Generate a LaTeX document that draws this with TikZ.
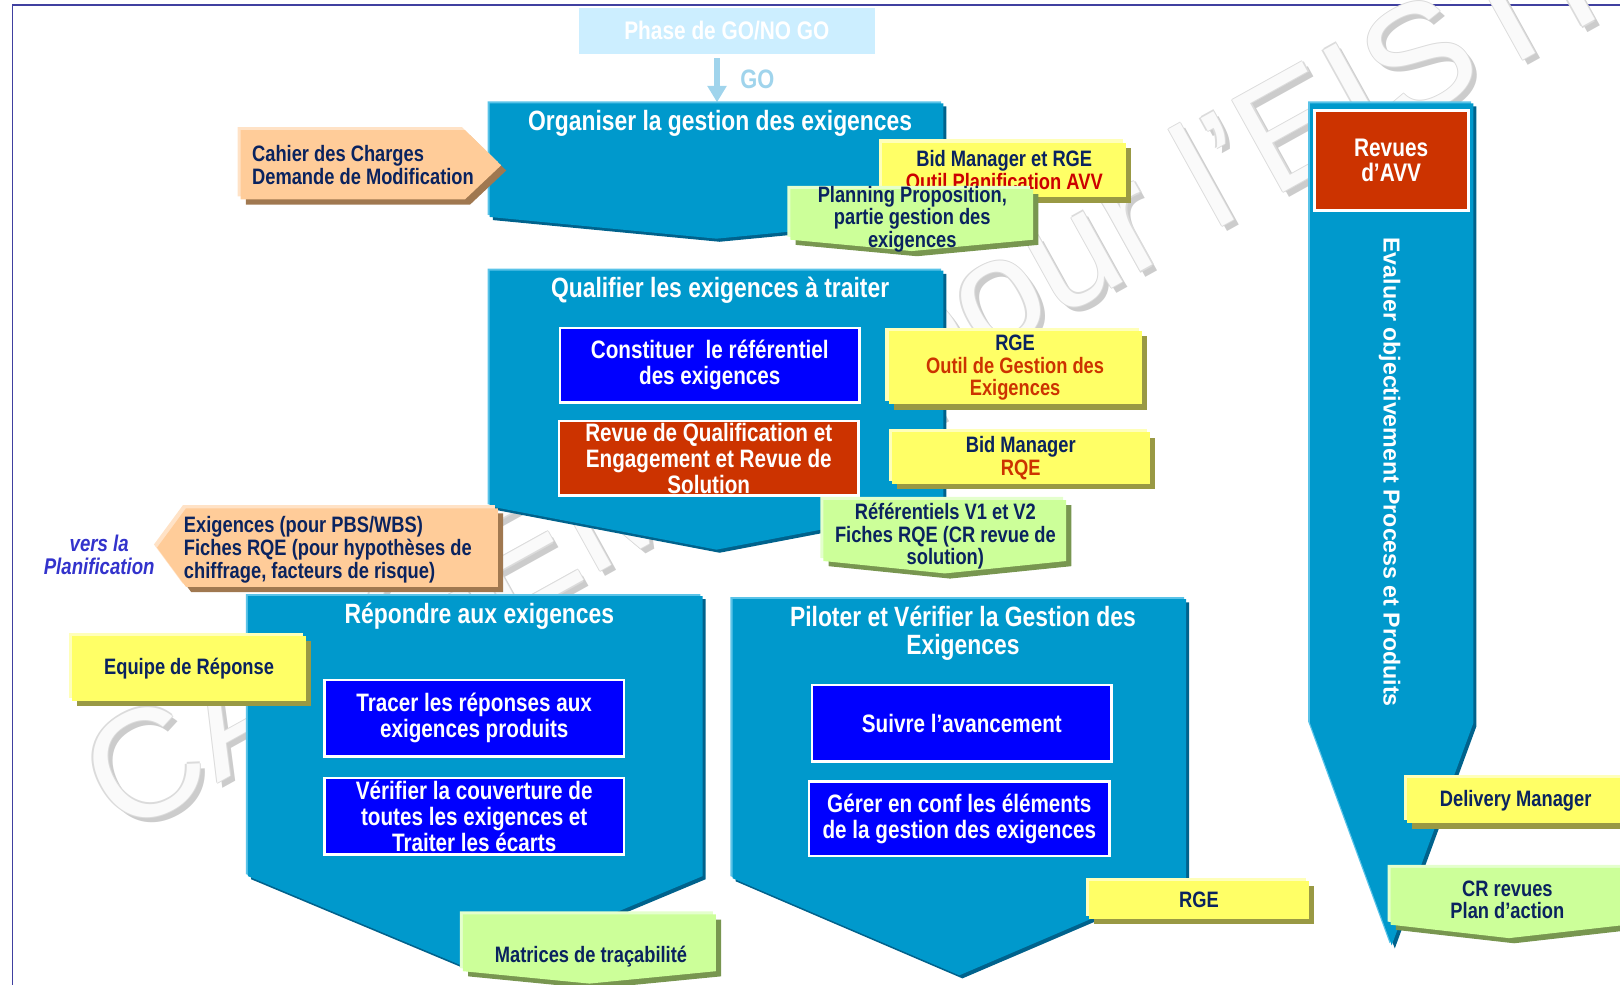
\documentclass[tikz,border=0pt]{standalone}
\usepackage{fontspec}
\setmainfont{Liberation Sans}[FakeStretch=0.82]
\newfontfamily\widefont{Liberation Sans}
\usetikzlibrary{arrows.meta,shadows}
\definecolor{procblue}{RGB}{0,153,204}
\definecolor{procdark}{RGB}{0,98,140}
\definecolor{proclight}{RGB}{90,195,232}
\definecolor{innerblue}{RGB}{0,0,255}
\definecolor{revred}{RGB}{204,51,0}
\definecolor{noteyel}{RGB}{255,255,102}
\definecolor{noteyeld}{RGB}{153,153,68}
\definecolor{noteyell}{RGB}{255,255,185}
\definecolor{notegrn}{RGB}{204,255,153}
\definecolor{notegrnd}{RGB}{120,150,80}
\definecolor{notegrnl}{RGB}{228,255,205}
\definecolor{noteorg}{RGB}{255,204,153}
\definecolor{noteorgd}{RGB}{160,120,80}
\definecolor{noteorgl}{RGB}{255,226,198}
\definecolor{navy}{RGB}{10,35,95}
\definecolor{txtred}{RGB}{204,0,0}
\definecolor{phasebg}{RGB}{204,238,255}
\definecolor{gocol}{RGB}{160,212,236}
\definecolor{framecol}{RGB}{64,64,160}
\definecolor{planif}{RGB}{51,51,204}

\begin{document}
\begin{tikzpicture}[x=0.5pt,y=-0.5pt,
	proc/.style={fill=procblue,
		general shadow={fill=procdark, shadow xshift=1.5pt, shadow yshift=-1.5pt},
		general shadow={fill=proclight, shadow xshift=-1pt, shadow yshift=1pt}},
	ttl/.style={text=white, align=center, font=\fontsize{13.5}{13.5}\selectfont\bfseries},
	task/.style={draw=white, line width=1.2pt, fill=innerblue, minimum width=145pt, minimum height=36pt,
		inner sep=1pt, text=white, align=center, font=\fontsize{12.2}{12.5}\selectfont\bfseries},
	txt/.style={text=navy, align=center, font=\fontsize{10.8}{11}\selectfont\bfseries},
	ynote/.style={txt, fill=noteyel, inner sep=1pt,
		general shadow={fill=noteyeld, shadow xshift=2.5pt, shadow yshift=-2.5pt},
		general shadow={fill=noteyell, shadow xshift=-1.5pt, shadow yshift=1.5pt}},
	gnote/.style={fill=notegrn,
		general shadow={fill=notegrnd, shadow xshift=2.5pt, shadow yshift=-2.5pt},
		general shadow={fill=notegrnl, shadow xshift=-1.5pt, shadow yshift=1.5pt}},
	onote/.style={fill=noteorg,
		general shadow={fill=noteorgd, shadow xshift=2.5pt, shadow yshift=-2.5pt},
		general shadow={fill=noteorgl, shadow xshift=-1.5pt, shadow yshift=1.5pt}},
	wmark/.style={rotate=29, font=\widefont\fontsize{74}{74}\selectfont}
	]
	\useasboundingbox (0,0) rectangle (1568,953);
	\draw[framecol, line width=0.8pt] (12,953) -- (12,5) -- (1568,5);
	% filigrane
	\node[wmark, text=gray!40] (wmshadow) at (823,383) {CAPGEMINI pour l’EISTI};
	\foreach \dx/\dy [count=\i] in {-1.2/0, 1.2/0, 0/-1.2, 0/1.2}
		\node[wmark, text=gray!28] (wmline\i) at (818+\dx,378+\dy) {CAPGEMINI pour l’EISTI};
	\node[wmark, text=gray!4] (wm) at (818,378) {CAPGEMINI pour l’EISTI};
	% go / no go
	\node[fill=phasebg, minimum width=143.5pt, minimum height=22pt, text=white,
		font=\fontsize{12.3}{13}\selectfont\bfseries] (phase) at (703.5,30) {Phase de GO/NO GO};
	\coordinate (goend) at (694,99);
	\draw[gocol, line width=2.5pt, -{Triangle[width=9pt,length=8pt]}, shorten <=2pt]
		(phase.south -| goend) -- (goend);
	\node[text=gocol, font=\fontsize{12.9}{13}\selectfont\bfseries] (golbl) at (733,77) {GO};
	% processus
	\foreach \nm/\xa/\xb/\yt/\ys/\yp in {org/474/913/100/210/231, qual/474/913/262/490/532,
		rep/240/680/577/848/940, pil/709/1148/580/850/944, eval/1268/1426/100/700/915}
		\fill[proc] (\xa,\yt) coordinate (\nm-nw) -- (\xb,\yt) coordinate (\nm-ne) -- (\xb,\ys)
			-- ({(\xa+\xb)/2},\yp) coordinate (\nm-s) -- (\xa,\ys) -- cycle;
	\node[ttl] (orgt) at (697,119) {Organiser la gestion des exigences};
	\node[ttl] (qualt) at (697,281) {Qualifier les exigences à traiter};
	\node[ttl] (rept) at (464,596) {Répondre aux exigences};
	\node[ttl] (pilt) at (932,612.5) {Piloter et Vérifier la Gestion des\\Exigences};
	\node[rotate=-90, text=white, font=\widefont\fontsize{11.2}{12}\selectfont\bfseries] (evalt)
		at (1345,457) {Evaluer objectivement Process et Produits};
	% activites
	\node[task] (const) at (687,353.5) {Constituer~ le référentiel\\des exigences};
	\node[task, fill=revred, minimum height=33.5pt] (revq) at (686,443.5)
		{Revue de Qualification et\\Engagement et Revue de\\Solution};
	\node[task, minimum height=37pt] (tracer) at (459,695) {Tracer les réponses aux\\exigences produits};
	\node[task, minimum height=37pt] (verif) at (459,790) {Vérifier la couverture de\\toutes les exigences et\\Traiter les écarts};
	\node[task, minimum height=37pt] (suivre) at (931,700) {Suivre l’avancement};
	\node[task, minimum width=145.5pt] (gerer) at (928.5,792.5) {Gérer en conf les éléments\\de la gestion des exigences};
	\node[task, fill=revred, minimum width=74.5pt, minimum height=48.5pt, line width=1.5pt,
		font=\fontsize{12.3}{12}\selectfont\bfseries] (revavv) at (1346.5,155.5) {Revues\\d’AVV};
	% entrees
	\fill[onote] (233,126) -- (450,126) -- (485,160) -- (450,193) -- (233,193) -- cycle;
	\node[txt, align=left, anchor=west] (cahier) at (237,160) {Cahier des Charges\\Demande de Modification};
	\fill[onote] (482,492) -- (482,568) -- (180,568) -- (152,530) -- (180,492) -- cycle;
	\node[txt, align=left, anchor=west] (exig) at (171,532)
		{Exigences (pour PBS/WBS)\\Fiches RQE (pour hypothèses de\\chiffrage, facteurs de risque)};
	\node[text=planif, align=center, font=\fontsize{11}{11.5}\selectfont\bfseries\itshape] (versplan)
		at (96,537) {vers la\\Planification};
	% acteurs et outils
	\node[ynote, minimum width=118pt, minimum height=26.5pt] (bidrge) at (972,164.5)
		{Bid Manager et RGE\\\textcolor{txtred}{Outil Planification AVV}};
	\node[ynote, minimum width=122.5pt, minimum height=35.5pt] (rgeoutil) at (982.5,356)
		{RGE\\\textcolor{revred}{Outil de Gestion des}\\\textcolor{revred}{Exigences}};
	\node[ynote, minimum width=125pt, minimum height=25pt] (bidrqe) at (988,443.5)
		{Bid Manager\\\textcolor{revred}{RQE}};
	\node[ynote, minimum width=113pt, minimum height=31.5pt] (equipe) at (183,647) {Equipe de Réponse};
	\node[ynote, minimum width=106.5pt, minimum height=18.5pt] (rge) at (1160.5,871) {RGE};
	\node[ynote, minimum width=105pt, minimum height=22pt] (delivery) at (1467,775) {Delivery Manager};
	% sorties
	\foreach \nm/\xa/\xb/\yt/\ys/\yp in {plan/765/1000/183/232/243, refv/797/1032/484/543/555,
		matr/448/693/885/940/952, crrev/1346/1575/840/895/908}
		\fill[gnote] (\xa,\yt) -- (\xb,\yt) -- (\xb,\ys) -- ({(\xa+\xb)/2},\yp) coordinate (\nm-s) -- (\xa,\ys) -- cycle;
	\node[txt] (plan) at (883,212) {Planning Proposition,\\partie gestion des\\exigences};
	\node[txt] (refv) at (915,519) {Référentiels V1 et V2\\Fiches RQE (CR revue de\\solution)};
	\node[txt] (matr) at (572,926) {Matrices de traçabilité};
	\node[txt] (crrev) at (1459,871) {CR revues\\Plan d’action};
\end{tikzpicture}
\end{document}
